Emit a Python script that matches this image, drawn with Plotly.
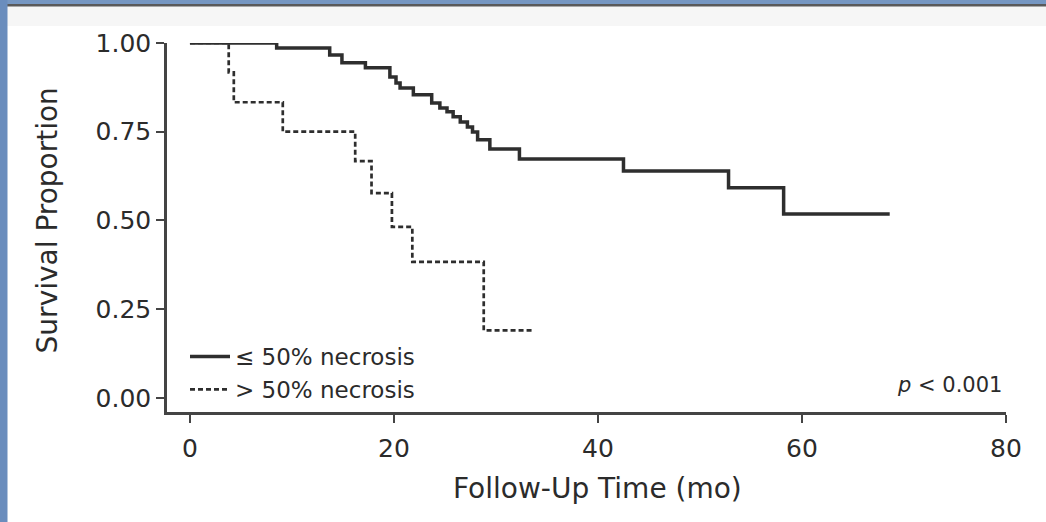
import plotly.graph_objects as go

# Kaplan-Meier step data (time in months, survival proportion after each event)
low_necrosis_time = [0, 8.5, 13.7, 14.9, 17.2, 19.6, 20.2, 20.6, 21.9, 23.7, 24.5,
                     25.2, 25.8, 26.5, 27.2, 27.7, 28.2, 29.4, 32.3, 42.5, 52.8,
                     58.2, 68.6]
low_necrosis_surv = [1.0, 0.986, 0.966, 0.944, 0.930, 0.904, 0.887, 0.873, 0.854,
                     0.831, 0.817, 0.806, 0.792, 0.777, 0.763, 0.749, 0.727, 0.701,
                     0.673, 0.639, 0.592, 0.518, 0.518]

high_necrosis_time = [0, 3.8, 4.3, 9.1, 16.2, 17.8, 19.8, 21.8, 28.8, 33.6]
high_necrosis_surv = [1.0, 0.917, 0.833, 0.75, 0.667, 0.577, 0.482, 0.383, 0.19, 0.19]

series_names = ["\u2264 50% necrosis", "> 50% necrosis"]
x_ticks = [0, 20, 40, 60, 80]
y_ticks = [0.0, 0.25, 0.5, 0.75, 1.0]
y_tick_labels = ["0.00", "0.25", "0.50", "0.75", "1.00"]

W, H = 1046, 522
M_L, M_R, M_T, M_B = 167, 40, 43, 110
INK = "#2b2b2b"
FONT = "DejaVu Sans"

fig = go.Figure()
fig.add_trace(go.Scatter(
    x=low_necrosis_time, y=low_necrosis_surv, mode="lines", line_shape="hv",
    name=series_names[0], line=dict(color="#2e2e2e", width=3.5), cliponaxis=False))
fig.add_trace(go.Scatter(
    x=high_necrosis_time, y=high_necrosis_surv, mode="lines", line_shape="hv",
    name=series_names[1], line=dict(color="#2e2e2e", width=2.7, dash="5px,3px"),
    cliponaxis=False))

# helpers to place decorations by pixel position
pw, ph = W - M_L - M_R, H - M_T - M_B
def px_x(p):
    return (p - M_L) / pw
def px_y(p):
    return (H - M_B - p) / ph

shapes = [
    # slide frame: blue strips on the left and top, dark rule under the top strip
    dict(type="rect", xref="paper", yref="paper", x0=px_x(0), x1=px_x(W),
         y0=px_y(6), y1=px_y(26), fillcolor="#f6f6f6", line_width=0, layer="below"),
    dict(type="rect", xref="paper", yref="paper", x0=px_x(0), x1=px_x(W),
         y0=px_y(0), y1=px_y(4), fillcolor="#7697c2", line_width=0),
    dict(type="rect", xref="paper", yref="paper", x0=px_x(0), x1=px_x(W),
         y0=px_y(4), y1=px_y(6.5), fillcolor="#5a5a5a", line_width=0),
    dict(type="rect", xref="paper", yref="paper", x0=px_x(0), x1=px_x(7.5),
         y0=px_y(H), y1=px_y(0), fillcolor="#6a8dbd", line_width=0),
]

fig.update_layout(
    width=W, height=H,
    margin=dict(l=M_L, r=M_R, t=M_T, b=M_B),
    paper_bgcolor="white", plot_bgcolor="white",
    font=dict(family=FONT, color=INK),
    showlegend=True,
    legend=dict(x=px_x(185), y=px_y(335), xanchor="left", yanchor="top",
                bgcolor="rgba(0,0,0,0)", font=dict(size=23, color=INK),
                itemwidth=40, tracegroupgap=0),
    shapes=shapes,
    xaxis=dict(range=[-2.25, 80], tickvals=x_ticks, ticks="outside", ticklen=8,
               tickwidth=2, tickcolor="#444", showline=True, linecolor="#444",
               linewidth=2.5, showgrid=False, zeroline=False,
               ticklabelstandoff=4, tickfont=dict(size=25, color=INK)),
    yaxis=dict(range=[-0.04, 1.0], tickvals=y_ticks, ticktext=y_tick_labels,
               ticks="outside", ticklen=8, tickwidth=2, tickcolor="#444",
               showline=True, linecolor="#444", linewidth=2.5, showgrid=False,
               zeroline=False, tickfont=dict(size=25, color=INK)),
    annotations=[
        dict(text="Follow-Up Time (mo)", xref="x", yref="paper", x=40, y=px_y(488),
             showarrow=False, font=dict(size=28, color=INK), xanchor="center",
             yanchor="middle"),
        dict(text="Survival Proportion", xref="paper", yref="y", x=px_x(47), y=0.5,
             showarrow=False, textangle=-90, font=dict(size=28, color=INK),
             xanchor="center", yanchor="middle"),
        dict(text="<i>p</i> < 0.001", xref="paper", yref="paper", x=px_x(1004),
             y=px_y(385), showarrow=False, font=dict(size=21, color=INK),
             xanchor="right", yanchor="middle"),
    ],
)

fig.write_html("out.html")
